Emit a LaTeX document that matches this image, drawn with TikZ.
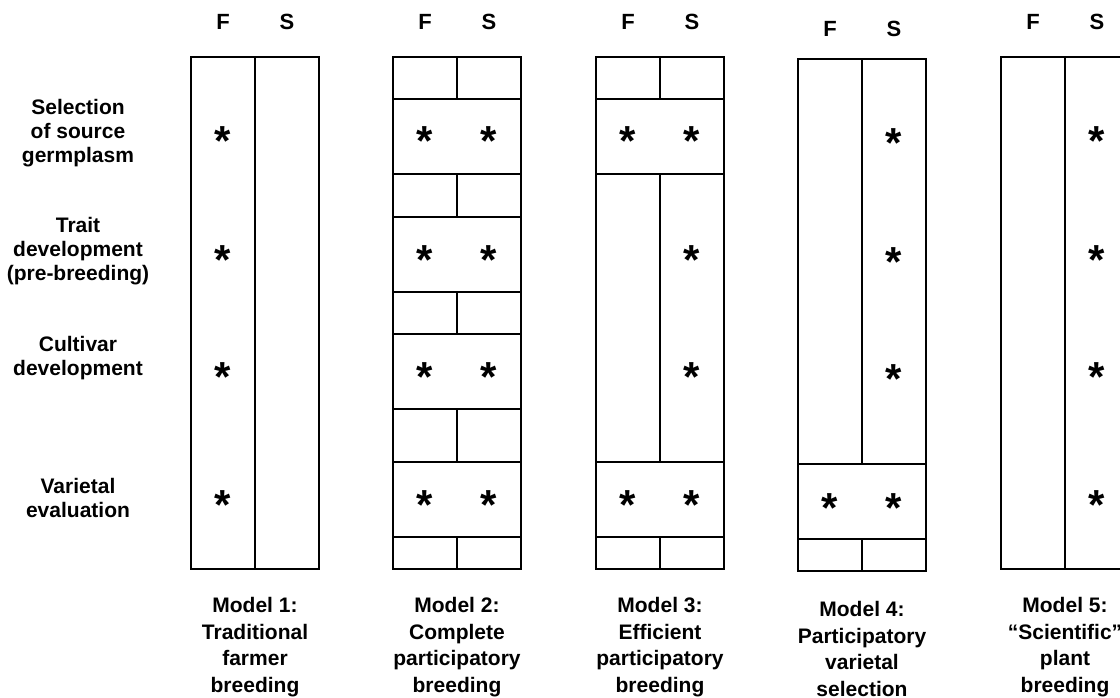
\documentclass[tikz,border=0pt]{standalone}
\usepackage{fontspec}
\setmainfont{Liberation Sans}

\tikzset{
  box/.style={line width=1.3pt},
  hdr/.style={font=\fontsize{22}{26}\selectfont\bfseries},
  star/.style={font=\fontsize{42}{42}\selectfont\bfseries, anchor=base, yshift=-20pt, inner sep=0pt},
  stage/.style={font=\fontsize{21}{24}\selectfont\bfseries, align=center},
  model/.style={font=\fontsize{21}{26.5}\selectfont\bfseries, align=center},
}

\begin{document}
\begin{tikzpicture}[x=1pt, y=-1pt]

  \useasboundingbox (0,0) rectangle (1120,698);

  % stages
  \node[stage] (sel) at (78,133) {Selection\\of source\\germplasm};
  \node[stage] (trait) at (78,251) {Trait\\development\\(pre-breeding)};
  \node[stage] (cult) at (78,358) {Cultivar\\development};
  \node[stage] (var) at (78,498) {Varietal\\evaluation};

  % model 1
  \draw[box] (191,57) rectangle (319,569);
  \draw[box] (255,57) -- (255,569);
  \node[hdr] (f1) at (223,22) {F};
  \node[hdr] (s1) at (287,22) {S};
  \foreach \y [count=\i] in {136,254,371,499}
    \node[star] (m1f\i) at (223,\y) {*};
  \node[model] (m1) at (255,647) {Model 1:\\Traditional\\farmer\\breeding};

  % model 2
  \draw[box] (393,57) rectangle (521,569);
  \foreach \y in {99,174,217,292,334,409,462,537}
    \draw[box] (393,\y) -- (521,\y);
  \draw[box] (457,57) -- (457,99);
  \draw[box] (457,174) -- (457,217);
  \draw[box] (457,292) -- (457,334);
  \draw[box] (457,409) -- (457,462);
  \draw[box] (457,537) -- (457,569);
  \node[hdr] (f2) at (425,22) {F};
  \node[hdr] (s2) at (489,22) {S};
  \foreach \y [count=\i] in {136,254,371,499} {
    \node[star] (m2f\i) at (425,\y) {*};
    \node[star] (m2s\i) at (489,\y) {*};
  }
  \node[model] (m2) at (457,647) {Model 2:\\Complete\\participatory\\breeding};

  % model 3
  \draw[box] (596,57) rectangle (724,569);
  \foreach \y in {99,174,462,537}
    \draw[box] (596,\y) -- (724,\y);
  \draw[box] (660,57) -- (660,99);
  \draw[box] (660,174) -- (660,462);
  \draw[box] (660,537) -- (660,569);
  \node[hdr] (f3) at (628,22) {F};
  \node[hdr] (s3) at (692,22) {S};
  \node[star] (m3f1) at (628,136) {*};
  \node[star] (m3s1) at (692,136) {*};
  \node[star] (m3s2) at (692,254) {*};
  \node[star] (m3s3) at (692,371) {*};
  \node[star] (m3f4) at (628,499) {*};
  \node[star] (m3s4) at (692,499) {*};
  \node[model] (m3) at (660,647) {Model 3:\\Efficient\\participatory\\breeding};

  % model 4
  \draw[box] (798,59) rectangle (926,571);
  \draw[box] (798,464) -- (926,464);
  \draw[box] (798,539) -- (926,539);
  \draw[box] (862,59) -- (862,464);
  \draw[box] (862,539) -- (862,571);
  \node[hdr] (f4) at (830,29) {F};
  \node[hdr] (s4) at (894,29) {S};
  \foreach \y [count=\i] in {138,256,373}
    \node[star] (m4s\i) at (894,\y) {*};
  \node[star] (m4f4) at (830,502) {*};
  \node[star] (m4s4) at (894,502) {*};
  \node[model] (m4) at (862,649) {Model 4:\\Participatory\\varietal\\selection};

  % model 5
  \draw[box] (1001,57) rectangle (1129,569);
  \draw[box] (1065,57) -- (1065,569);
  \node[hdr] (f5) at (1033,22) {F};
  \node[hdr] (s5) at (1097,22) {S};
  \foreach \y [count=\i] in {136,254,371,499}
    \node[star] (m5s\i) at (1097,\y) {*};
  \node[model] (m5) at (1065,647) {Model 5:\\“Scientific”\\plant\\breeding};

\end{tikzpicture}
\end{document}
